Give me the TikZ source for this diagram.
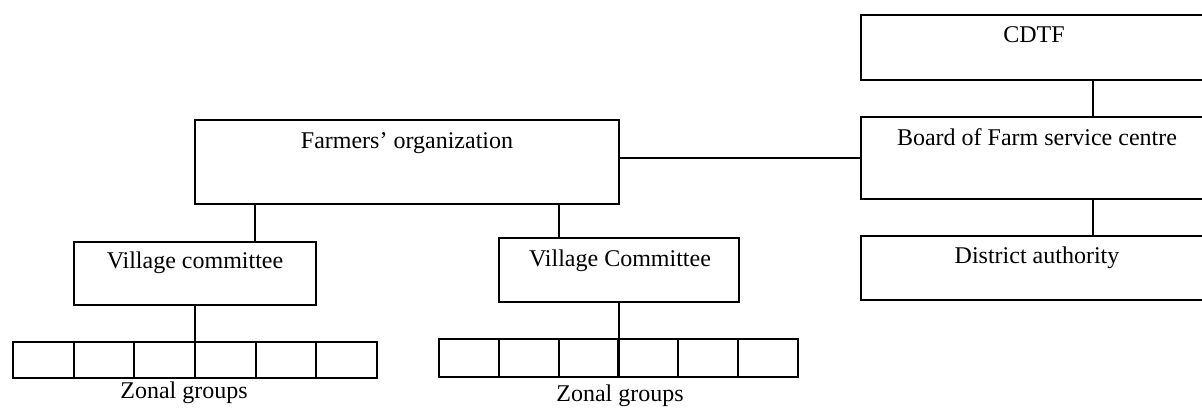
\documentclass[tikz,border=0pt]{standalone}
\usepackage{fontspec}
\setmainfont{Liberation Serif}
\begin{document}
\begin{tikzpicture}[x=1pt,y=-1pt,
  box/.style={draw,line width=2.2pt,rectangle,anchor=north west,inner sep=0pt,outer sep=0pt},
  txt/.style={anchor=base,inner sep=0pt,font=\fontsize{24}{28}\selectfont},
  link/.style={line width=2.2pt}]
\useasboundingbox (0,0) rectangle (1202,407);
\clip (0,0) rectangle (1202,407);
% boxes
\node[box,minimum width=354pt,minimum height=65pt] (cdtf) at (861,15) {};
\node[box,minimum width=354pt,minimum height=82pt] (board) at (861,117) {};
\node[box,minimum width=354pt,minimum height=64pt] (dist) at (861,236) {};
\node[box,minimum width=424pt,minimum height=84pt] (farm) at (195,120) {};
\node[box,minimum width=242pt,minimum height=63pt] (vca) at (74,242) {};
\node[box,minimum width=240pt,minimum height=64pt] (vcb) at (499,238) {};
\foreach \i in {0,...,5}{
  \node[box,minimum width=60.67pt,minimum height=36pt] (za\i) at ({13+\i*60.67},342) {};
  \node[box,minimum width=59.83pt,minimum height=38pt] (zb\i) at ({439+\i*59.83},339) {};
}
% texts
\node[txt] (cdtft) at (1034,42) {CDTF};
\node[txt] (boardt) at (1037,145) {Board of Farm service centre};
\node[txt] (distt) at (1037,263) {District authority};
\node[txt] (farmt) at (407,148) {Farmers’ organization};
\node[txt] (vcat) at (195,268) {Village committee};
\node[txt] (vcbt) at (620,266) {Village Committee};
\node[txt] (zat) at (184,398) {Zonal groups};
\node[txt] (zbt) at (620,401) {Zonal groups};
% connector columns
\coordinate (xr) at (1093,0);
\coordinate (xa) at (255,0);
\coordinate (xb) at (559,0);
% connectors
\draw[link] (cdtf.south -| xr) -- (board.north -| xr);
\draw[link] (board.south -| xr) -- (dist.north -| xr);
\draw[link] (farm.east |- board.west) -- (board.west);
\draw[link] (farm.south -| xa) -- (vca.north -| xa);
\draw[link] (farm.south -| xb) -- (vcb.north -| xb);
\draw[link] (vca.south) -- (vca.south |- za2.north);
\draw[link] (vcb.south) -- (vcb.south |- zb2.north);
\end{tikzpicture}
\end{document}
